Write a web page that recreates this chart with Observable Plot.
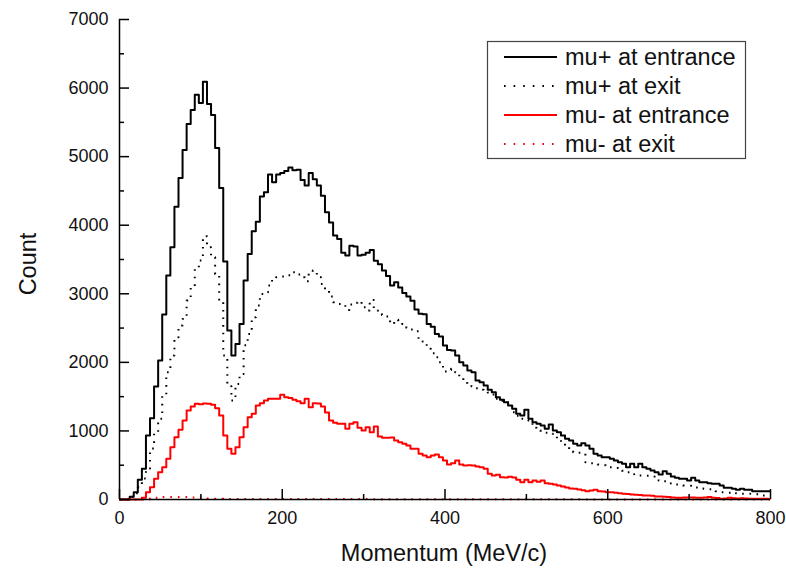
<!DOCTYPE html>
<html><head><meta charset="utf-8">
<script src="https://cdn.jsdelivr.net/npm/d3@7"></script>
<script src="https://cdn.jsdelivr.net/npm/@observablehq/plot@0.6"></script>
<style>body{margin:0;background:#fff;} #chart{position:relative;width:786px;height:569px;}</style>
</head><body><div id="chart"></div>
<script>
// Bin centres (MeV/c), 5 MeV/c bins
const momentum = d3.range(0, 805, 5);

const muPlusEntrance = [
0,0,0,40,106,287,447,933,1185,1647,
2026,2697,3265,3678,4271,4689,5097,5476,5680,5904,
5782,6093,5767,5608,5127,4544,3470,2464,2099,2269,
2561,3192,3581,3911,4052,4417,4480,4738,4626,4738,
4760,4790,4840,4800,4810,4660,4580,4760,4670,4580,
4430,4190,4040,3850,3800,3600,3560,3700,3690,3560,
3570,3600,3640,3480,3430,3340,3260,3120,3170,3090,
3010,2960,2900,2770,2710,2700,2560,2520,2415,2376,
2245,2182,2172,2099,2002,1953,1880,1856,1735,1710,
1662,1599,1564,1491,1453,1418,1370,1322,1249,1224,
1308,1176,1127,1103,1079,1031,1093,1006,981,933,
885,860,812,787,821,787,739,666,641,617,
617,593,569,544,520,471,520,471,520,471,
447,423,398,364,413,374,335,316,302,302,
277,316,277,252,252,238,228,228,204,170,
170,156,141,156,141,141,121,121,121,121,121];

const muPlusExit = [
0,0,0,40,90,180,306,452,743,981,
1176,1516,1856,2100,2366,2536,2634,2901,3095,3363,
3484,3840,3678,3532,3290,2900,2100,1650,1443,1686,
1830,2250,2415,2657,2828,2998,3022,3120,3217,3240,
3251,3260,3270,3313,3280,3240,3182,3313,3338,3240,
3143,3047,2959,2876,2852,2850,2765,2843,2870,2891,
2803,2755,2911,2755,2716,2690,2668,2561,2620,2590,
2561,2503,2480,2454,2318,2303,2197,2133,2075,2002,
1866,1890,1905,1856,1774,1700,1676,1650,1622,1600,
1579,1560,1531,1468,1440,1418,1380,1273,1220,1176,
1160,1152,1045,1010,981,975,960,933,885,830,
762,720,690,680,666,544,530,520,510,500,
480,471,460,447,420,398,370,350,350,350,
345,335,300,277,265,252,235,219,210,204,
200,190,175,160,156,150,140,120,106,106,
100,106,90,83,85,83,80,75,58,58,58];

const muMinusEntrance = [
0,0,0,0,0,0,25,106,180,302,
398,471,593,762,908,1016,1152,1297,1356,1395,
1390,1400,1395,1380,1330,1224,933,739,666,762,
908,1054,1200,1249,1370,1404,1443,1468,1468,1468,
1526,1491,1480,1453,1433,1404,1468,1346,1404,1400,
1356,1270,1152,1120,1103,1103,1031,1103,1127,1045,
1006,1054,981,1064,918,899,899,905,860,835,
812,787,739,739,666,641,617,641,656,617,
569,510,529,569,510,496,500,496,480,471,
447,374,350,360,325,320,330,320,287,252,
287,252,277,260,277,238,230,219,204,190,
175,160,156,145,135,121,130,141,121,115,
106,106,100,92,85,80,73,70,65,58,
58,55,44,44,40,35,30,25,25,28,
30,30,25,25,30,35,25,22,10,15,
25,20,15,20,15,12,10,10,10,10,8];

const muMinusExit = [
0,0,0,0,0,0,0,5,15,25,
30,35,35,35,35,35,35,35,30,30,
25,20,15,12,10,10,8,8,8,8,
8,8,8,8,8,8,8,8,8,8,
8,8,8,8,7,7,7,7,7,7,
7,7,7,6,6,6,6,6,6,6,
6,6,5,5,5,5,5,5,5,5,
5,5,4,4,4,4,4,4,4,4,
4,4,4,4,3,3,3,3,3,3,
3,3,3,3,3,3,2,2,2,2,
2,2,2,2,2,2,2,2,2,2,
2,2,2,2,2,1,1,1,1,1,
1,1,1,1,1,1,1,1,1,1,
1,1,1,1,1,1,1,1,1,1,
1,1,1,1,1,1,1,1,1,1,
1,1,1,1,1,1,1,1,1,1,1];

const seriesNames = ["mu+ at entrance", "mu+ at exit", "mu- at entrance", "mu- at exit"];
const seriesValues = [muPlusEntrance, muPlusExit, muMinusEntrance, muMinusExit];
const seriesColors = ["#000000", "#000000", "#ff0000", "#ff0000"];
const seriesDash = [null, "1.6,6", null, "1.6,6"];

const xTicks = [0, 200, 400, 600, 800];
const xMinorTicks = [100, 300, 500, 700];
const yTicks = [0, 1000, 2000, 3000, 4000, 5000, 6000, 7000];
const yMinorTicks = [500, 1500, 2500, 3500, 4500, 5500, 6500];
const xTitle = "Momentum (MeV/c)";
const yTitle = "Count";

const rows = [];
seriesValues.forEach((arr, i) => arr.forEach((v, j) => rows.push({series: seriesNames[i], x: momentum[j], y: v})));

const W = 786, H = 569, mL = 119, mR = 16, mT = 19, mB = 70;
const fw = W - mL - mR, fh = H - mT - mB;
const font = "'Liberation Sans', Arial, sans-serif";

const lineMarks = seriesNames.map((name, i) => Plot.line(rows.filter(r => r.series === name), {
  x: "x", y: "y", curve: "step", stroke: seriesColors[i], strokeWidth: 2,
  strokeDasharray: seriesDash[i] || undefined, strokeLinecap: "butt"
}));

const chart = Plot.plot({
  width: W, height: H, marginLeft: mL, marginRight: mR, marginTop: mT, marginBottom: mB,
  style: {fontFamily: font, background: "white", color: "#111"},
  x: {domain: [0, 800]},
  y: {domain: [0, 7000]},
  marks: [
    ...lineMarks,
    Plot.axisX({ticks: xTicks, tickSize: 0, tickPadding: 12, fontSize: 18, tickFormat: d => String(d), label: null}),
    Plot.axisY({ticks: yTicks, tickSize: 0, tickPadding: 11, fontSize: 18, tickFormat: d => String(d), label: null}),
    Plot.tickY(yTicks, {y: d => d, insetRight: fw - 10, stroke: "#000", strokeWidth: 1.5}),
    Plot.tickY(yMinorTicks, {y: d => d, insetRight: fw - 5, stroke: "#000", strokeWidth: 1.5}),
    Plot.tickX(xTicks, {x: d => d, insetTop: fh - 10, stroke: "#000", strokeWidth: 1.5}),
    Plot.tickX(xMinorTicks, {x: d => d, insetTop: fh - 5, stroke: "#000", strokeWidth: 1.5}),
    Plot.ruleX([0], {stroke: "#000", strokeWidth: 1.5}),
    Plot.ruleY([0], {stroke: "#000", strokeWidth: 1.5})
  ]
});
document.getElementById("chart").appendChild(chart);

const svg = d3.select(chart);
// axis titles
svg.append("text").attr("x", 444).attr("y", 561).attr("text-anchor", "middle")
  .attr("font-family", font).attr("font-size", 23.5).attr("fill", "#111").text(xTitle);
svg.append("text").attr("transform", "translate(36,264) rotate(-90)").attr("text-anchor", "middle")
  .attr("font-family", font).attr("font-size", 23.5).attr("fill", "#111").text(yTitle);

// legend
const lg = svg.append("g");
lg.append("rect").attr("x", 487.5).attr("y", 41.5).attr("width", 258).attr("height", 117)
  .attr("fill", "white").attr("stroke", "#444").attr("stroke-width", 1.2);
const rowY = [57, 86, 115, 144];
seriesNames.forEach((name, i) => {
  lg.append("line").attr("x1", 504).attr("x2", 557).attr("y1", rowY[i]).attr("y2", rowY[i])
    .attr("stroke", seriesColors[i]).attr("stroke-width", 2)
    .attr("stroke-dasharray", seriesDash[i] ? "1.6,8" : null);
  lg.append("text").attr("x", 565).attr("y", rowY[i] + 8).attr("text-anchor", "start")
    .attr("font-family", font).attr("font-size", 23.5).attr("fill", "#111").text(name);
});
</script>
</body></html>
